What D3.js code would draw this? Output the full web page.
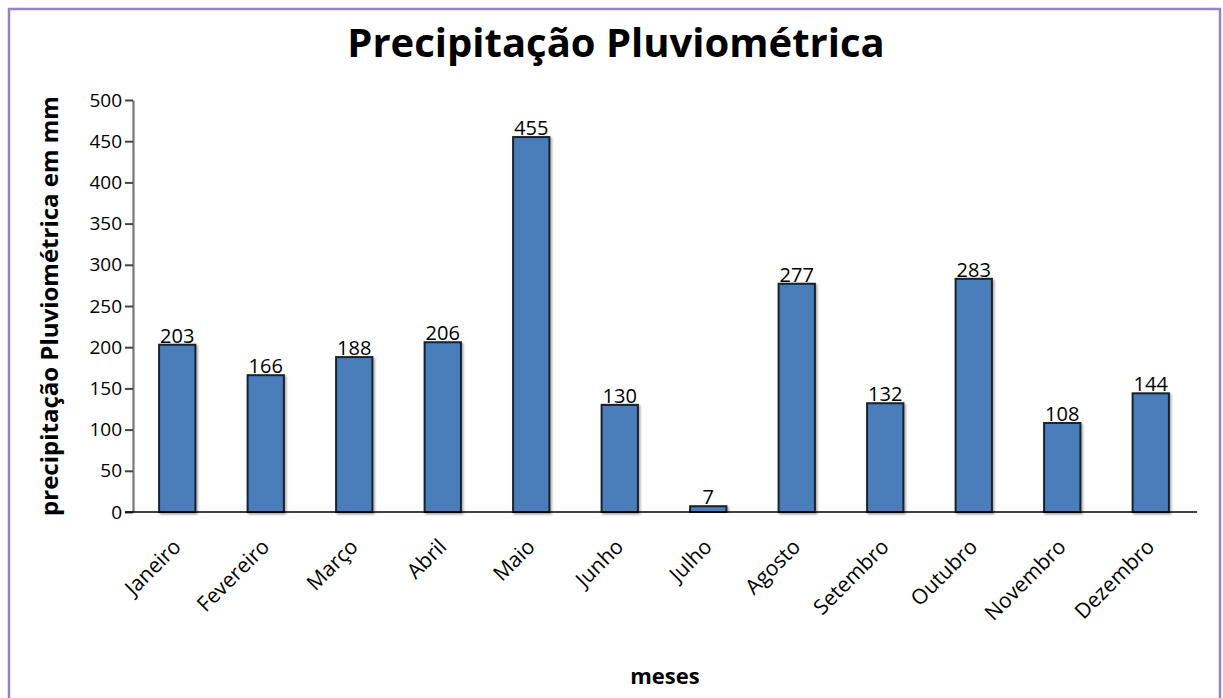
<!DOCTYPE html>
<html><head><meta charset="utf-8">
<script src="https://cdn.jsdelivr.net/npm/d3@7"></script>
<style>
html,body{margin:0;padding:0;background:#fff;}
svg{display:block;}
</style></head>
<body>
<svg id="chart" width="1223" height="698"></svg>
<script>
const months = ["Janeiro","Fevereiro","Março","Abril","Maio","Junho","Julho","Agosto","Setembro","Outubro","Novembro","Dezembro"];
const values = [203,166,188,206,455,130,7,277,132,283,108,144];
const yTicks = [0,50,100,150,200,250,300,350,400,450,500];
const title = "Precipitação Pluviométrica";
const yTitle = "precipitação Pluviométrica em mm";
const xTitle = "meses";

const svg = d3.select("#chart");
const font = "'Open Sans', sans-serif";
const W = 1223, H = 698;
const m = {left:133, right:28, top:100, bottom:186};

// shadow filter
const defs = svg.append("defs");
const f = defs.append("filter").attr("id","sh").attr("x","-20%").attr("y","-5%").attr("width","140%").attr("height","110%");
f.append("feDropShadow").attr("dx",1.5).attr("dy",1.5).attr("stdDeviation",1).attr("flood-color","#000").attr("flood-opacity",0.35);

// border
svg.append("path")
  .attr("d", `M9,${H} L9,9 L1220,9 L1220,${H}`)
  .attr("fill","none").attr("stroke","#9b82bd").attr("stroke-width",2.5);

const x = d3.scaleBand().domain(months).range([m.left, W - m.right]).paddingInner(0.59).paddingOuter(0.295);
const y = d3.scaleLinear().domain([0,500]).range([H - m.bottom, m.top]);

// title
svg.append("text").attr("x", 616).attr("y", 57).attr("text-anchor","middle")
  .attr("font-family", font).attr("font-weight","bold").attr("font-size",40).attr("fill","#000")
  .text(title);

// bars
svg.append("g").selectAll("rect").data(values).join("rect")
  .attr("x",(d,i)=>x(months[i])).attr("width",x.bandwidth())
  .attr("y",d=>y(d)).attr("height",d=>y(0)-y(d))
  .attr("fill","#4a7ebb").attr("stroke","#16212e").attr("stroke-width",2)
  .attr("filter","url(#sh)");

// value labels
svg.append("g").selectAll("text").data(values).join("text")
  .attr("x",(d,i)=>x(months[i])+x.bandwidth()/2).attr("y",d=>y(d)-2)
  .attr("text-anchor","middle").attr("font-family",font).attr("font-size",20).attr("fill","#000")
  .text(d=>d);

// y axis
const yAxis = d3.axisLeft(y).tickValues(yTicks).tickSize(8).tickPadding(3).tickSizeOuter(0);
const gy = svg.append("g").attr("transform",`translate(${m.left},0)`).call(yAxis);
gy.select(".domain").attr("stroke","#777").attr("stroke-width",2.2);
gy.selectAll(".tick line").attr("stroke","#444").attr("stroke-width",2);
gy.selectAll(".tick text").attr("font-family",font).attr("font-size",19).attr("fill","#000");

// x axis
const xAxis = d3.axisBottom(x).tickSize(0).tickSizeOuter(0).tickPadding(0);
const gx = svg.append("g").attr("transform",`translate(0,${y(0)})`).call(xAxis);
gx.select(".domain").attr("d", `M${m.left-8},0H${W - m.right + 2}`).attr("stroke","#000").attr("stroke-width",1.5);
gx.selectAll(".tick text").attr("font-family",font).attr("font-size",21).attr("fill","#000")
  .attr("text-anchor","end").attr("dy",0)
  .attr("transform","translate(5,36) rotate(-45)");

// axis titles
svg.append("text").attr("transform",`translate(58,${(y(0)+y(500))/2}) rotate(-90)`)
  .attr("text-anchor","middle").attr("font-family",font).attr("font-weight","bold").attr("font-size",24)
  .text(yTitle);
svg.append("text").attr("x",665).attr("y",684).attr("text-anchor","middle")
  .attr("font-family",font).attr("font-weight","bold").attr("font-size",22)
  .text(xTitle);
</script>
</body></html>
